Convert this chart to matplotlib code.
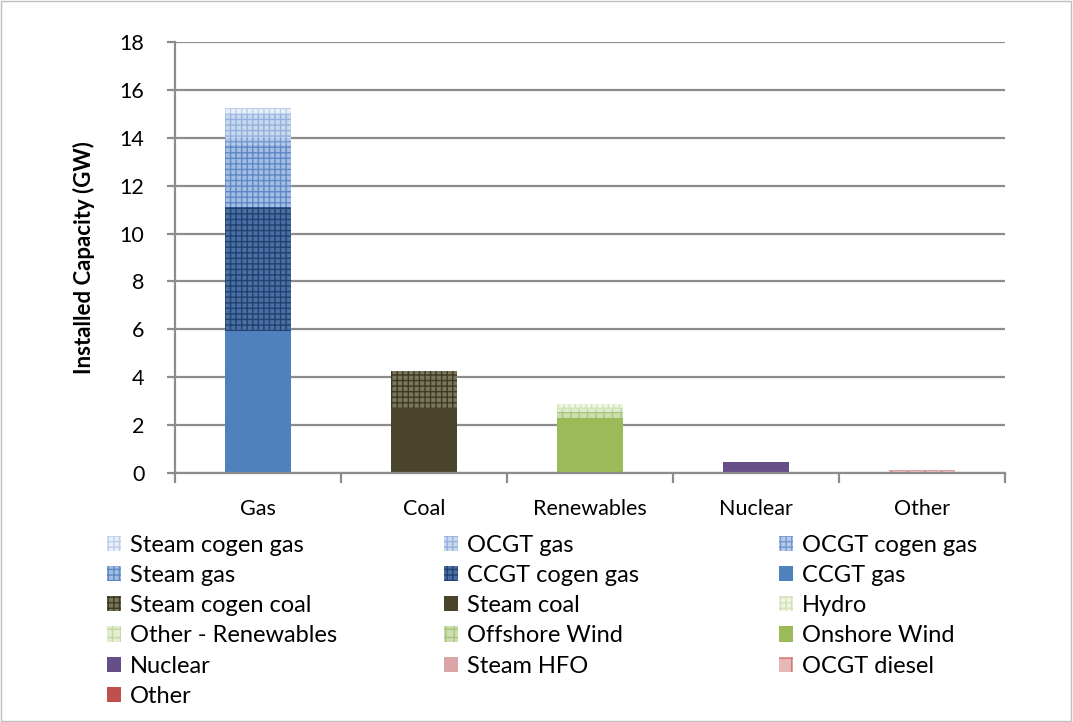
import numpy as np
import matplotlib
matplotlib.use("Agg")
from matplotlib import pyplot as plt
from matplotlib.patches import Rectangle, Patch

plt.rcParams['font.family'] = ['Lato', 'DejaVu Sans']
plt.rcParams['hatch.linewidth'] = 1.0

categories = ['Gas', 'Coal', 'Renewables', 'Nuclear', 'Other']

# series in stacking order (bottom -> top), values per category in GW
series_names = ['Other', 'OCGT diesel', 'Steam HFO', 'Nuclear',
                'Onshore Wind', 'Offshore Wind', 'Other - Renewables', 'Hydro',
                'Steam coal', 'Steam cogen coal',
                'CCGT gas', 'CCGT cogen gas', 'Steam gas', 'OCGT cogen gas',
                'OCGT gas', 'Steam cogen gas']
other_vals = [0, 0, 0, 0, 0.03]
ocgt_diesel = [0, 0, 0, 0, 0.05]
steam_hfo = [0, 0, 0, 0, 0.04]
nuclear = [0, 0, 0, 0.48, 0]
onshore_wind = [0, 0, 2.28, 0, 0]
offshore_wind = [0, 0, 0.25, 0, 0]
other_renew = [0, 0, 0.15, 0, 0]
hydro = [0, 0, 0.22, 0, 0]
steam_coal = [0, 2.7, 0, 0, 0]
steam_cogen_coal = [0, 1.58, 0, 0, 0]
ccgt_gas = [5.92, 0, 0, 0, 0]
ccgt_cogen_gas = [5.18, 0, 0, 0, 0]
steam_gas = [2.6, 0, 0, 0, 0]
ocgt_cogen_gas = [0.3, 0, 0, 0, 0]
ocgt_gas = [1.0, 0, 0, 0, 0]
steam_cogen_gas = [0.25, 0, 0, 0, 0]

series_vals = [other_vals, ocgt_diesel, steam_hfo, nuclear,
               onshore_wind, offshore_wind, other_renew, hydro,
               steam_coal, steam_cogen_coal,
               ccgt_gas, ccgt_cogen_gas, steam_gas, ocgt_cogen_gas,
               ocgt_gas, steam_cogen_gas]

# (face, hatch, hatch colour)
styles = {
    'Other': ('#C0504D', None, None),
    'OCGT diesel': ('#E6B9B8', '+', '#D47A7A'),
    'Steam HFO': ('#DAA5A7', None, None),
    'Nuclear': ('#664F89', None, None),
    'Onshore Wind': ('#9BBB59', None, None),
    'Offshore Wind': ('#CCDEAE', '++', '#A9C47E'),
    'Other - Renewables': ('#E2ECD0', '++', '#C3D8A0'),
    'Hydro': ('#F0F5E6', '+++', '#D3E3B8'),
    'Steam coal': ('#4A452A', None, None),
    'Steam cogen coal': ('#7A765C', '+++', '#3F3A22'),
    'CCGT gas': ('#4F81BD', None, None),
    'CCGT cogen gas': ('#4A6FA5', '+++', '#22416E'),
    'Steam gas': ('#A3BDE3', '+++', '#5F88C6'),
    'OCGT cogen gas': ('#B6CAE9', '+++', '#7599CF'),
    'OCGT gas': ('#C8D8EF', '+++', '#95B2DC'),
    'Steam cogen gas': ('#E8EFF9', '+++', '#BCCFEA'),
}

fig = plt.figure(figsize=(10.73, 7.22), dpi=100)
ax = fig.add_axes([175 / 1073, 1 - 473 / 722, 830 / 1073, 431 / 722])

x = np.arange(len(categories))
bottom = np.zeros(len(categories))
handles = {}
for name, vals in zip(series_names, series_vals):
    face, hatch, hc = styles[name]
    vals = np.array(vals, dtype=float)
    ax.bar(x, vals, 0.4, bottom=bottom, color=face, hatch=hatch,
           edgecolor=hc if hc else face, linewidth=0, zorder=3)
    handles[name] = Patch(facecolor=face, hatch=hatch,
                          edgecolor=hc if hc else face, linewidth=0)
    bottom += vals

ax.set_xlim(-0.5, len(categories) - 0.5)
ax.set_ylim(0, 18)
ax.set_yticks(np.arange(0, 19, 2))
ax.yaxis.grid(True, color='#8C8C8C', linewidth=1.6, zorder=0)
ax.set_axisbelow(True)
for s in ['top', 'right']:
    ax.spines[s].set_visible(False)
for s in ['left', 'bottom']:
    ax.spines[s].set_color('#8C8C8C')
    ax.spines[s].set_linewidth(1.6)
    ax.spines[s].set_zorder(4)
ax.set_xticks(x)
ax.set_xticklabels(categories, fontsize=15.5)
ax.set_xticks(np.arange(-0.5, len(categories)), minor=True)
ax.tick_params(axis='x', which='major', length=0, pad=19)
ax.tick_params(axis='x', which='minor', length=7, width=1.6, color='#8C8C8C')
ax.tick_params(axis='y', labelsize=15.5, length=6, width=1.6, color='#8C8C8C', pad=16)
ax.set_ylabel('Installed Capacity (GW)', fontsize=16, fontweight='bold', labelpad=18)

# legend, filled row by row like the original (reverse of stacking order)
legend_order = series_names[::-1]
col_x = [102 / 1073, 439 / 1073, 774 / 1073]
for c in range(3):
    names = legend_order[c::3]
    fig.legend([handles[n] for n in names], names, loc='upper left',
               bbox_to_anchor=(col_x[c], 1 - 530 / 722), frameon=False,
               fontsize=17, handlelength=0.62, handleheight=0.62,
               handletextpad=0.35, labelspacing=0.39, borderaxespad=0,
               borderpad=0.2)

fig.patches.append(Rectangle((0.001, 0.001), 0.997, 0.997, transform=fig.transFigure,
                             fill=False, edgecolor='#BFBFBF', linewidth=1))

plt.savefig('out.png', dpi=100)
